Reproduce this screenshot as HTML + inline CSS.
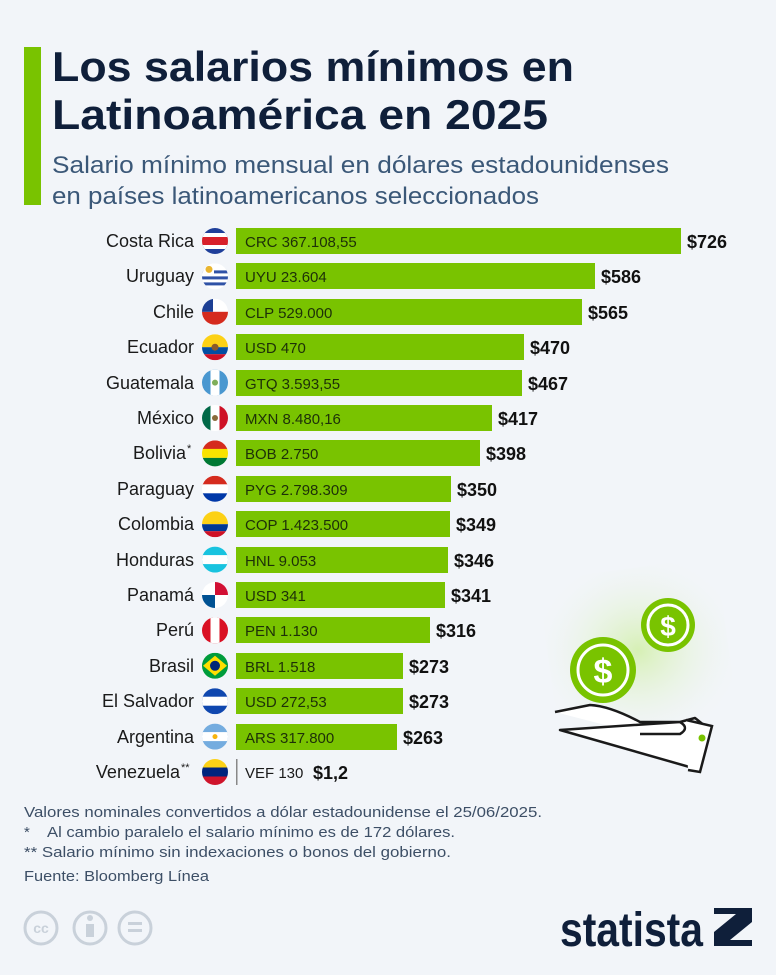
<!DOCTYPE html>
<html><head><meta charset="utf-8"><style>
body{margin:0;width:776px;height:970px;background:#f2f5f9;overflow:hidden;font-family:"Liberation Sans",sans-serif}
</style></head><body>
<svg width="776" height="970" viewBox="0 0 776 970" xmlns="http://www.w3.org/2000/svg" font-family="Liberation Sans, sans-serif">
<defs><clipPath id="c"><circle cx="0" cy="0" r="13"/></clipPath>
<radialGradient id="g" cx="0.5" cy="0.5" r="0.6"><stop offset="0" stop-color="#d6f0b4"/><stop offset="1" stop-color="#f2f5f9" stop-opacity="0"/></radialGradient></defs>
<rect x="24" y="47" width="17" height="158" fill="#79c300"/>
<text x="52" y="81" font-size="42" font-weight="bold" fill="#0f1f3a" textLength="522" lengthAdjust="spacingAndGlyphs">Los salarios mínimos en</text>
<text x="52" y="129" font-size="42" font-weight="bold" fill="#0f1f3a" textLength="496" lengthAdjust="spacingAndGlyphs">Latinoamérica en 2025</text>
<text x="52" y="173" font-size="24" fill="#3b5878" textLength="617" lengthAdjust="spacingAndGlyphs">Salario mínimo mensual en dólares estadounidenses</text>
<text x="52" y="204" font-size="24" fill="#3b5878" textLength="487" lengthAdjust="spacingAndGlyphs">en países latinoamericanos seleccionados</text>

<g font-size="18" fill="#1a1a1a" text-anchor="end">
<text x="194" y="247">Costa Rica</text><text x="194" y="282">Uruguay</text><text x="194" y="318">Chile</text><text x="194" y="353">Ecuador</text><text x="194" y="389">Guatemala</text><text x="194" y="424">México</text><text x="186" y="459">Bolivia</text><text x="194" y="495">Paraguay</text><text x="194" y="530">Colombia</text><text x="194" y="566">Honduras</text><text x="194" y="601">Panamá</text><text x="194" y="636">Perú</text><text x="194" y="672">Brasil</text><text x="194" y="707">El Salvador</text><text x="194" y="743">Argentina</text><text x="180" y="778">Venezuela</text>
</g>
<text x="187" y="452" font-size="11" fill="#1a1a1a">*</text>
<text x="181" y="771" font-size="11" fill="#1a1a1a">**</text>

<g fill="#79c300">
<rect x="236" y="228" width="445" height="26"/><rect x="236" y="263" width="359" height="26"/><rect x="236" y="299" width="346" height="26"/><rect x="236" y="334" width="288" height="26"/><rect x="236" y="370" width="286" height="26"/><rect x="236" y="405" width="256" height="26"/><rect x="236" y="440" width="244" height="26"/><rect x="236" y="476" width="215" height="26"/><rect x="236" y="511" width="214" height="26"/><rect x="236" y="547" width="212" height="26"/><rect x="236" y="582" width="209" height="26"/><rect x="236" y="617" width="194" height="26"/><rect x="236" y="653" width="167" height="26"/><rect x="236" y="688" width="167" height="26"/><rect x="236" y="724" width="161" height="26"/><rect x="236" y="759" width="1.5" height="26" fill="#888"/>
</g>
<g font-size="15" fill="#1d3008">
<text x="245" y="247">CRC 367.108,55</text><text x="245" y="282">UYU 23.604</text><text x="245" y="318">CLP 529.000</text><text x="245" y="353">USD 470</text><text x="245" y="389">GTQ 3.593,55</text><text x="245" y="424">MXN 8.480,16</text><text x="245" y="459">BOB 2.750</text><text x="245" y="495">PYG 2.798.309</text><text x="245" y="530">COP 1.423.500</text><text x="245" y="566">HNL 9.053</text><text x="245" y="601">USD 341</text><text x="245" y="636">PEN 1.130</text><text x="245" y="672">BRL 1.518</text><text x="245" y="707">USD 272,53</text><text x="245" y="743">ARS 317.800</text><text x="245" y="778" fill="#1a1a1a">VEF 130</text>
</g>
<g font-size="18" font-weight="bold" fill="#111">
<text x="687" y="248">$726</text><text x="601" y="283">$586</text><text x="588" y="319">$565</text><text x="530" y="354">$470</text><text x="528" y="390">$467</text><text x="498" y="425">$417</text><text x="486" y="460">$398</text><text x="457" y="496">$350</text><text x="456" y="531">$349</text><text x="454" y="567">$346</text><text x="451" y="602">$341</text><text x="436" y="637">$316</text><text x="409" y="673">$273</text><text x="409" y="708">$273</text><text x="403" y="744">$263</text><text x="313" y="779">$1,2</text>
</g>

<!-- flags -->
<g transform="translate(215,241)" clip-path="url(#c)"><rect x="-13" y="-13" width="26" height="26" fill="#1f3f9a"/><rect x="-13" y="-8" width="26" height="16" fill="#fff"/><rect x="-13" y="-4" width="26" height="8" fill="#d8202a"/></g>
<g transform="translate(215,276.4)" clip-path="url(#c)"><rect x="-13" y="-13" width="26" height="26" fill="#fff"/><rect x="-13" y="-6" width="26" height="3" fill="#2f52a6"/><rect x="-13" y="0" width="26" height="3" fill="#2f52a6"/><rect x="-13" y="6" width="26" height="3" fill="#2f52a6"/><rect x="-13" y="-13" width="12" height="11" fill="#fff"/><circle cx="-6" cy="-7" r="3.5" fill="#e9b530"/></g>
<g transform="translate(215,311.8)" clip-path="url(#c)"><rect x="-13" y="-13" width="26" height="26" fill="#fff"/><rect x="-13" y="0" width="26" height="13" fill="#d52b1e"/><rect x="-13" y="-13" width="11" height="13" fill="#1c3f94"/></g>
<g transform="translate(215,347.2)" clip-path="url(#c)"><rect x="-13" y="-13" width="26" height="13" fill="#fcd116"/><rect x="-13" y="0" width="26" height="7" fill="#034ea2"/><rect x="-13" y="7" width="26" height="6" fill="#ce1126"/><circle cx="0" cy="0" r="3.5" fill="#8a5a2a"/></g>
<g transform="translate(215,382.6)" clip-path="url(#c)"><rect x="-13" y="-13" width="26" height="26" fill="#4997d0"/><rect x="-4.5" y="-13" width="9" height="26" fill="#fff"/><circle cx="0" cy="0" r="3" fill="#7fae5a"/></g>
<g transform="translate(215,418)" clip-path="url(#c)"><rect x="-13" y="-13" width="9" height="26" fill="#006847"/><rect x="-4.5" y="-13" width="9" height="26" fill="#fff"/><rect x="4.5" y="-13" width="9" height="26" fill="#ce1126"/><circle cx="0" cy="0" r="3" fill="#8a6a3a"/></g>
<g transform="translate(215,453.4)" clip-path="url(#c)"><rect x="-13" y="-13" width="26" height="9" fill="#d52b1e"/><rect x="-13" y="-4.5" width="26" height="9" fill="#f9e300"/><rect x="-13" y="4.5" width="26" height="9" fill="#007934"/></g>
<g transform="translate(215,488.8)" clip-path="url(#c)"><rect x="-13" y="-13" width="26" height="9" fill="#d52b1e"/><rect x="-13" y="-4.5" width="26" height="9" fill="#fff"/><rect x="-13" y="4.5" width="26" height="9" fill="#0038a8"/></g>
<g transform="translate(215,524.2)" clip-path="url(#c)"><rect x="-13" y="-13" width="26" height="13" fill="#fcd116"/><rect x="-13" y="0" width="26" height="7" fill="#003893"/><rect x="-13" y="7" width="26" height="6" fill="#ce1126"/></g>
<g transform="translate(215,559.6)" clip-path="url(#c)"><rect x="-13" y="-13" width="26" height="26" fill="#18c3df"/><rect x="-13" y="-4.5" width="26" height="9" fill="#fff"/></g>
<g transform="translate(215,595)" clip-path="url(#c)"><rect x="-13" y="-13" width="26" height="26" fill="#fff"/><rect x="0" y="-13" width="13" height="13" fill="#d21034"/><rect x="-13" y="0" width="13" height="13" fill="#005293"/></g>
<g transform="translate(215,630.4)" clip-path="url(#c)"><rect x="-13" y="-13" width="26" height="26" fill="#d91023"/><rect x="-4.5" y="-13" width="9" height="26" fill="#fff"/></g>
<g transform="translate(215,665.8)" clip-path="url(#c)"><rect x="-13" y="-13" width="26" height="26" fill="#009c3b"/><polygon points="0,-10 12,0 0,10 -12,0" fill="#ffdf00"/><circle r="5" fill="#002776"/></g>
<g transform="translate(215,701.2)" clip-path="url(#c)"><rect x="-13" y="-13" width="26" height="26" fill="#0f47af"/><rect x="-13" y="-4.5" width="26" height="9" fill="#fff"/></g>
<g transform="translate(215,736.6)" clip-path="url(#c)"><rect x="-13" y="-13" width="26" height="26" fill="#74acdf"/><rect x="-13" y="-4.5" width="26" height="9" fill="#fff"/><circle r="2.5" fill="#f6b40e"/></g>
<g transform="translate(215,772)" clip-path="url(#c)"><rect x="-13" y="-13" width="26" height="9" fill="#fcd116"/><rect x="-13" y="-4.5" width="26" height="9" fill="#00247d"/><rect x="-13" y="4.5" width="26" height="9" fill="#cf142b"/></g>

<!-- illustration -->
<rect x="548" y="568" width="180" height="165" rx="30" fill="url(#g)" transform="rotate(-8 638 650)"/>
<circle cx="668" cy="625" r="27" fill="#79c300"/><circle cx="668" cy="625" r="20" fill="none" stroke="#fff" stroke-width="3"/><text x="668" y="636" font-size="28" font-weight="bold" fill="#fff" text-anchor="middle">$</text>
<circle cx="603" cy="670" r="33" fill="#79c300"/><circle cx="603" cy="670" r="25" fill="none" stroke="#fff" stroke-width="3"/><text x="603" y="683" font-size="34" font-weight="bold" fill="#fff" text-anchor="middle">$</text>
<path d="M555 712 L590 705 Q610 706 640 722 L680 722 Q690 728 680 734 L640 734 M680 722 L695 718 L710 730 L700 770 L560 730 Z" fill="#fff" stroke="#1a1a1a" stroke-width="2.5" stroke-linejoin="round"/>
<path d="M686 720 L712 726 L700 772 L688 770" fill="#fff" stroke="#1a1a1a" stroke-width="2.5"/>
<circle cx="702" cy="738" r="3.5" fill="#79c300"/>

<g font-size="15" fill="#3d4f66">
<text x="24" y="817" textLength="518" lengthAdjust="spacingAndGlyphs">Valores nominales convertidos a dólar estadounidense el 25/06/2025.</text>
<text x="24" y="837">*</text><text x="47" y="837" textLength="408" lengthAdjust="spacingAndGlyphs">Al cambio paralelo el salario mínimo es de 172 dólares.</text>
<text x="24" y="857" textLength="427" lengthAdjust="spacingAndGlyphs">** Salario mínimo sin indexaciones o bonos del gobierno.</text>
<text x="24" y="881" textLength="185" lengthAdjust="spacingAndGlyphs">Fuente: Bloomberg Línea</text>
</g>
<g fill="none" stroke="#c9d1da" stroke-width="3">
<circle cx="41" cy="928" r="16"/><circle cx="90" cy="928" r="16"/><circle cx="135" cy="928" r="16"/>
</g>
<text x="41" y="933" font-size="14" font-weight="bold" fill="#c9d1da" text-anchor="middle">cc</text>
<rect x="86" y="924" width="8" height="13" fill="#c9d1da"/><circle cx="90" cy="918" r="3" fill="#c9d1da"/>
<rect x="128" y="922" width="14" height="3" fill="#c9d1da"/><rect x="128" y="929" width="14" height="3" fill="#c9d1da"/>
<text x="560" y="946" font-size="48" font-weight="bold" fill="#0f1f3a" textLength="143" lengthAdjust="spacingAndGlyphs">statista</text>
<polygon points="714,908 752,908 752,922 730,940 752,940 752,946 714,946 714,932 736,914 714,914" fill="#0f1f3a"/>
</svg>
</body></html>
